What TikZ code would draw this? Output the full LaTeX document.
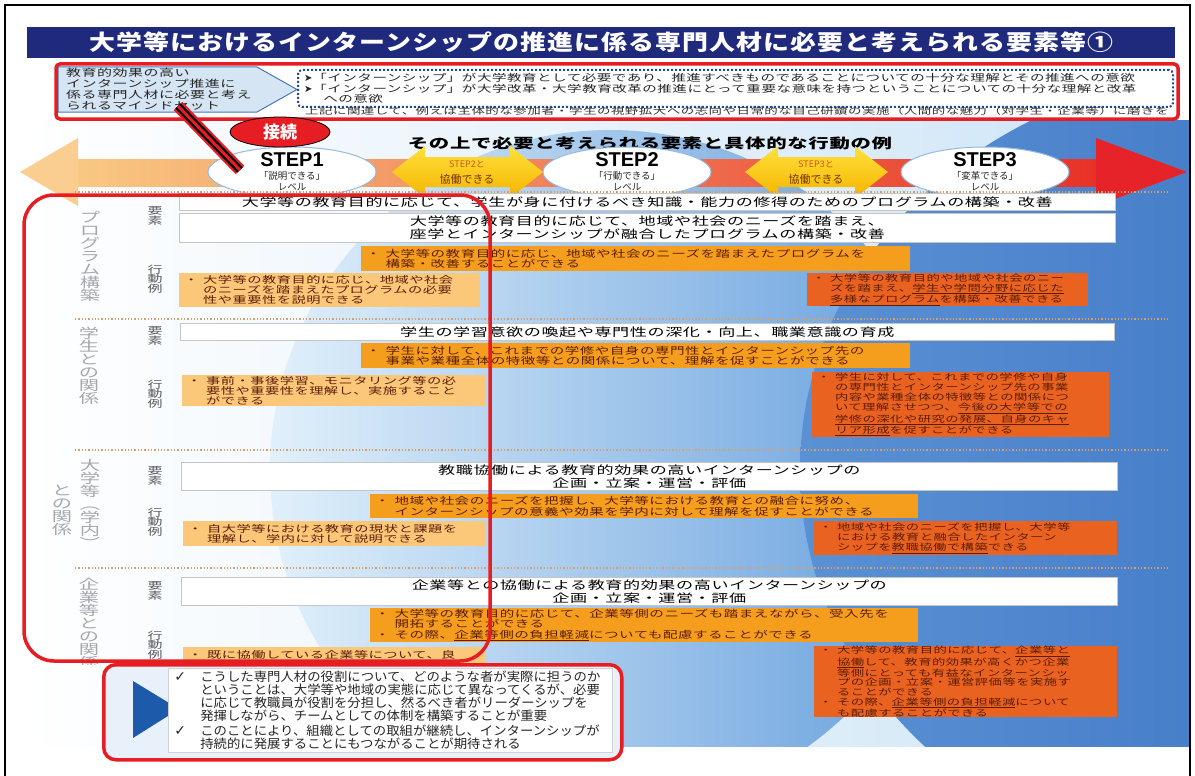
\documentclass[tikz,border=0pt]{standalone}
\usepackage{fontspec}
\usetikzlibrary{shapes.geometric,calc}
\newfontfamily\jp[FakeStretch=1.5,LetterSpace=5]{Noto Sans CJK JP}
\newfontfamily\jpt[FakeStretch=1.2,LetterSpace=5]{Noto Sans CJK JP}
\newfontfamily\jpv[FakeStretch=1.5]{Noto Sans CJK JP}
\newfontfamily\jpb[FakeStretch=1.07]{Noto Sans CJK JP}
\newfontfamily\jpn{Noto Sans CJK JP}
\newfontfamily\dv{DejaVu Sans}
\newfontfamily\lib{Liberation Sans}
\newcommand\bul{\makebox[2em][l]{・}}
\newcommand\ind{\hspace*{2em}}
\newcommand\chk{\makebox[26pt][l]{{\dv\fontsize{14}{12}\selectfont ✓}}}
\definecolor{navy}{RGB}{32,42,125}
\definecolor{redline}{RGB}{230,30,36}
\definecolor{orA}{RGB}{251,200,122}
\definecolor{orB}{RGB}{245,158,30}
\definecolor{orC}{RGB}{234,98,32}
\definecolor{txtbr}{RGB}{92,28,6}
\definecolor{lblgrey}{RGB}{165,168,175}
\definecolor{slgrey}{RGB}{90,90,95}
\definecolor{sepc}{RGB}{214,160,110}
\definecolor{pentfill}{RGB}{214,229,243}
\definecolor{pentline}{RGB}{70,120,185}
\definecolor{dotblue}{RGB}{30,75,150}
\definecolor{tri}{RGB}{30,90,170}
\definecolor{bgB}{RGB}{205,228,246}
\definecolor{bgC}{RGB}{225,240,251}
\definecolor{bgD}{RGB}{100,158,220}
\definecolor{bgE}{RGB}{90,145,212}
\definecolor{bgF}{RGB}{48,103,188}
\definecolor{bandL}{RGB}{249,200,130}
\definecolor{bandM}{RGB}{240,135,35}
\definecolor{bandR}{RGB}{232,50,40}
\definecolor{headL}{RGB}{250,205,145}
\definecolor{headR}{RGB}{230,35,40}
\definecolor{yelT}{RGB}{255,225,60}
\definecolor{yelB}{RGB}{245,180,0}
\definecolor{ellline}{RGB}{150,185,225}
\definecolor{bpanel}{RGB}{232,241,250}
\definecolor{ytopc}{RGB}{205,85,20}
\definecolor{ybotc}{RGB}{115,50,10}
\tikzset{
  wbox/.style={draw=gray!45, fill=white, line width=0.6pt, anchor=north west, inner sep=0pt, align=center, font=\jp\fontsize{11.4}{13}\selectfont},
  obox/.style={fill=orB, anchor=north west, inner xsep=5pt, inner ysep=0pt, align=left, text=txtbr, font=\jp\fontsize{9.7}{10.5}\selectfont},
  lobox/.style={fill=orA, anchor=north west, inner xsep=5pt, inner ysep=0pt, align=left, text=txtbr, font=\jp\fontsize{9.5}{10}\selectfont},
  dobox/.style={fill=orC, anchor=north west, inner xsep=5pt, inner ysep=0pt, align=left, text=txtbr, font=\jp\fontsize{8.9}{10}\selectfont},
  vlab/.style={text=lblgrey, inner sep=0pt, align=center, font=\jpv\fontsize{13.5}{13}\selectfont},
  slab/.style={text=slgrey, inner sep=0pt, align=center, font=\jpv\fontsize{10}{9.5}\selectfont},
  stepell/.style={ellipse, draw=ellline, line width=1pt, fill=white, minimum width=168pt, minimum height=50pt, inner sep=0pt},
  steplbl/.style={inner sep=0pt, font=\lib\bfseries\fontsize{20}{20}\selectfont, text=black},
  stepsub/.style={inner sep=0pt, align=center, font=\jpn\fontsize{9.5}{11}\selectfont, text=black!85},
  ytop/.style={inner sep=0pt, font=\jpn\fontsize{9}{9}\selectfont, text=ytopc},
  ybot/.style={inner sep=0pt, font=\jpn\fontsize{11}{11}\selectfont, text=ybotc},
  sepline/.style={draw=sepc, line width=1.3pt, dotted},
  redhl/.style={draw=redline, line width=3.5pt},
}
\begin{document}
\begin{tikzpicture}[x=1pt,y=-1pt]
\useasboundingbox (0,0) rectangle (1195,776);
\fill[white] (0,0) rectangle (1195,776);
% background
\begin{scope}
\clip (22,120) rectangle (1190,746);
\shade[left color=white, right color=bgB] (22,120) rectangle (1190,746);
\shade[left color=bgC, right color=bgD] (610,470) circle (340pt);
\shade[left color=bgE, right color=bgF] (1250,470) ellipse (450pt and 400pt);
\end{scope}
% frame
\draw[black, line width=2pt] (5,776) -- (5,5) -- (1190,5) -- (1190,776);
% title
\node[fill=navy, anchor=north west, minimum width=1148pt, minimum height=31pt, inner sep=0pt, text=white, font=\jpt\bfseries\fontsize{21.6}{22}\selectfont] (title) at (27,27) {大学等におけるインターンシップの推進に係る専門人材に必要と考えられる要素等①};
% mindset
\filldraw[fill=pentfill, draw=pentline, line width=1pt] (58,67) -- (257,67) -- (297,89.5) -- (257,112) -- (58,112) -- cycle;
\node[anchor=west, inner sep=0pt, align=left, text=black!85, font=\jp\fontsize{10}{11}\selectfont] (mind) at (66,89.5) {教育的効果の高い\\インターンシップ推進に\\係る専門人材に必要と考え\\られるマインドセット};
\node[draw=dotblue, dash pattern=on 2pt off 2pt, line width=2pt, rounded corners=4pt, fill=white, anchor=north west, minimum width=875pt, minimum height=37pt, text width=863pt, inner xsep=6pt, inner ysep=0pt, align=left, font=\jp\fontsize{9.7}{10.5}\selectfont, text=black!85] (mindbox) at (297,69) {{\dv\fontsize{10}{10}\selectfont ➤}「インターンシップ」が大学教育として必要であり、推進すべきものであることについての十分な理解とその推進への意欲\\{\dv\fontsize{10}{10}\selectfont ➤}「インターンシップ」が大学改革・大学教育改革の推進にとって重要な意味を持つということについての十分な理解と改革\\\hspace*{2em}への意欲};
\node[anchor=west, inner sep=0pt, font=\jp\fontsize{9}{10}\selectfont, text=black!80] (note) at (305,111.5) {上記に関連して、例えば主体的な参加者・学生の視野拡大への志向や日常的な自己研鑽の実施（人間的な魅力（対学生・企業等）に磨きを};
% step row
\node[font=\jp\bfseries\fontsize{13.6}{14}\selectfont, inner sep=0pt] (sub) at (650,143) {その上で必要と考えられる要素と具体的な行動の例};
\fill[headL] (20,172) -- (78,138) -- (78,206) -- cycle;
\shade[left color=bandL, middle color=bandM, right color=bandR] (78,159) rectangle (1096,186);
\fill[headR] (1096,138) -- (1187,172) -- (1096,206) -- cycle;
\shade[top color=yelT, bottom color=yelB] (392,172) -- (425,146) -- (425,157) -- (510,157) -- (510,146) -- (543,172) -- (510,198) -- (510,187) -- (425,187) -- (425,198) -- cycle;
\shade[top color=yelT, bottom color=yelB] (745,172) -- (778,146) -- (778,157) -- (855,157) -- (855,146) -- (888,172) -- (855,198) -- (855,187) -- (778,187) -- (778,198) -- cycle;
\node[ytop] (y1a) at (467,164) {STEP2と};
\node[ybot] (y1b) at (467,179) {協働できる};
\node[ytop] (y2a) at (816,164) {STEP3と};
\node[ybot] (y2b) at (816,179) {協働できる};
\node[stepell] (s1) at (292,172) {};
\node[stepell] (s2) at (627,172) {};
\node[stepell] (s3) at (985,172) {};
\node[steplbl] (s1a) at (292,160) {STEP1};
\node[stepsub] (s1b) at (292,181) {「説明できる」\\レベル};
\node[steplbl] (s2a) at (627,160) {STEP2};
\node[stepsub] (s2b) at (627,181) {「行動できる」\\レベル};
\node[steplbl] (s3a) at (985,160) {STEP3};
\node[stepsub] (s3b) at (985,181) {「変革できる」\\レベル};
% separators
\draw[sepline] (75,192) -- (1168,192);
\draw[sepline] (75,319) -- (1168,319);
\draw[sepline] (75,450) -- (1168,450);
\draw[sepline] (75,568) -- (1168,568);
% row labels
\node[vlab] (r1lab) at (90,256) {プ\\ロ\\グ\\ラ\\ム\\構\\築};
\node[vlab] (r2lab) at (89,366) {学\\生\\と\\の\\関\\係};
\node[vlab] (r3lab) at (90,504) {大\\学\\等\\︵\\学\\内\\︶};
\node[vlab] (r3lab2) at (62,510) {と\\の\\関\\係};
\begin{scope}
\clip (22,560) rectangle (170,664);
\node[vlab, anchor=north] (r4lab) at (89,578) {企\\業\\等\\と\\の\\関\\係};
\end{scope}
\node[slab] (r1y) at (155,216) {要\\素};
\node[slab] (r1k) at (155,279) {行\\動\\例};
\node[slab] (r2y) at (155,336) {要\\素};
\node[slab] (r2k) at (155,394) {行\\動\\例};
\node[slab] (r3y) at (155,476) {要\\素};
\node[slab] (r3k) at (155,522) {行\\動\\例};
\node[slab] (r4y) at (155,591) {要\\素};
\node[slab] (r4k) at (155,645) {行\\動\\例};
% row 1
\node[wbox, text width=936pt, minimum height=17pt] (r1w1) at (179,193) {大学等の教育目的に応じて、学生が身に付けるべき知識・能力の修得のためのプログラムの構築・改善};
\node[wbox, text width=936pt, minimum height=29pt] (r1w2) at (179,213) {大学等の教育目的に応じて、地域や社会のニーズを踏まえ、\\座学とインターンシップが融合したプログラムの構築・改善};
\node[obox, text width=539pt, minimum height=25pt] (r1o) at (361,246) {\bul 大学等の教育目的に応じ、地域や社会のニーズを踏まえたプログラムを\\\ind 構築・改善することができる};
\node[lobox, text width=291pt, minimum height=34pt] (r1l) at (179,273) {\bul 大学等の教育目的に応じ、地域や社会\\\ind のニーズを踏まえたプログラムの必要\\\ind 性や重要性を説明できる};
\node[dobox, text width=271pt, minimum height=33pt] (r1d) at (807,273) {\bul 大学等の教育目的や地域や社会のニー\\\ind ズを踏まえ、\underline{学生や学問分野に応じた}\\\ind \underline{多様なプログラム}を構築・改善できる};
% row 2
\node[wbox, text width=934pt, minimum height=17pt] (r2w) at (180,323) {学生の学習意欲の喚起や専門性の深化・向上、職業意識の育成};
\node[obox, text width=539pt, minimum height=25pt] (r2o) at (361,343) {\bul 学生に対して、これまでの学修や自身の専門性とインターンシップ先の\\\ind 事業や業種全体の特徴等との関係について、理解を促すことができる};
\node[lobox, text width=293pt, minimum height=31pt] (r2l) at (182,375) {\bul 事前・事後学習、モニタリング等の必\\\ind 要性や重要性を理解し、実施すること\\\ind ができる};
\node[dobox, text width=287pt, minimum height=65pt] (r2d) at (812,372) {\bul 学生に対して、これまでの学修や自身\\\ind の専門性とインターンシップ先の事業\\\ind 内容や業種全体の特徴等との関係につ\\\ind いて理解させつつ、\underline{今後の大学等での}\\\ind \underline{学修の深化や研究の発展、自身のキャ}\\\ind \underline{リア形成}を促すことができる};
% row 3
\node[wbox, text width=936pt, minimum height=28pt] (r3w) at (181,462) {教職協働による教育的効果の高いインターンシップの\\企画・立案・運営・評価};
\node[obox, text width=538pt, minimum height=24pt] (r3o) at (370,494) {\bul 地域や社会のニーズを把握し、大学等における教育との融合に努め、\\\ind インターンシップの意義や効果を学内に対して理解を促すことができる};
\node[lobox, text width=293pt, minimum height=25pt] (r3l) at (183,521) {\bul 自大学等における教育の現状と課題を\\\ind 理解し、学内に対して説明できる};
\node[dobox, text width=293pt, minimum height=34pt] (r3d) at (814,521) {\bul 地域や社会のニーズを把握し、大学等\\\ind における教育と融合したインターン\\\ind シップを\underline{教職協働で構築}できる};
% row 4
\node[wbox, text width=936pt, minimum height=28pt] (r4w) at (181,577) {企業等との協働による教育的効果の高いインターンシップの\\企画・立案・運営・評価};
\node[obox, text width=538pt, minimum height=34pt] (r4o) at (370,608) {\bul 大学等の教育目的に応じて、企業等側のニーズも踏まえながら、受入先を\\\ind 開拓することができる\\\bul その際、\underline{企業等側の負担軽減}についても配慮することができる};
\node[lobox, text width=293pt, minimum height=25pt] (r4l) at (183,647) {\bul 既に協働している企業等について、良\\\ind 好な関係を継続することができる};
\node[dobox, text width=293pt, minimum height=71pt, font=\jp\fontsize{8.9}{9.6}\selectfont] (r4d) at (814,646) {\bul 大学等の教育目的に応じて、\underline{企業等と}\\\ind \underline{協働}して、教育的効果が高くかつ企業\\\ind 等側にとっても有益なインターンシッ\\\ind プの企画・立案・運営評価等を実施す\\\ind ることができる\\\bul その際、\underline{企業等側の負担軽減}について\\\ind も配慮することができる};
% highlights
\draw[redhl, rounded corners=4pt] (56,64) rectangle (1178,119);
\draw[redhl, rounded corners=30pt] (24,195) rectangle (490,661);
% bottom box
\node[redhl, rounded corners=12pt, fill=bpanel, anchor=north west, minimum width=518pt, minimum height=95pt, inner sep=0pt] (bbox) at (102,663) {};
\fill[tri] (133,681) -- (179,709) -- (133,738) -- cycle;
\node[fill=white, draw=gray!35, line width=0.5pt, anchor=north west, text width=432pt, minimum height=84pt, inner xsep=6pt, inner ysep=2pt, align=left, font=\jpb\fontsize{12.5}{13}\selectfont, text=black!85] (btxt) at (168,668) {\chk こうした専門人材の役割について、どのような者が実際に担うのか\\\hspace*{26pt}ということは、大学等や地域の実態に応じて異なってくるが、必要\\\hspace*{26pt}に応じて教職員が役割を分担し、然るべき者がリーダーシップを\\\hspace*{26pt}発揮しながら、チームとしての体制を構築することが重要\\[2pt]\chk このことにより、組織としての取組が継続し、インターンシップが\\\hspace*{26pt}持続的に発展することにもつながることが期待される};
% connector
\node[ellipse, fill=redline, draw=black, line width=0.8pt, minimum width=100pt, minimum height=30pt, inner sep=0pt, text=white, font=\jpn\bfseries\fontsize{17}{17}\selectfont] (conn) at (280,132) {接続};
\coordinate (stA) at (178,106);
\coordinate (stB) at (240,170);
\draw[redline, line width=12pt] (stA) -- (stB);
\draw[black, line width=7.5pt] (stA) -- (stB);
\draw[redline, line width=3pt] (stA) -- (stB);
\end{tikzpicture}
\end{document}
